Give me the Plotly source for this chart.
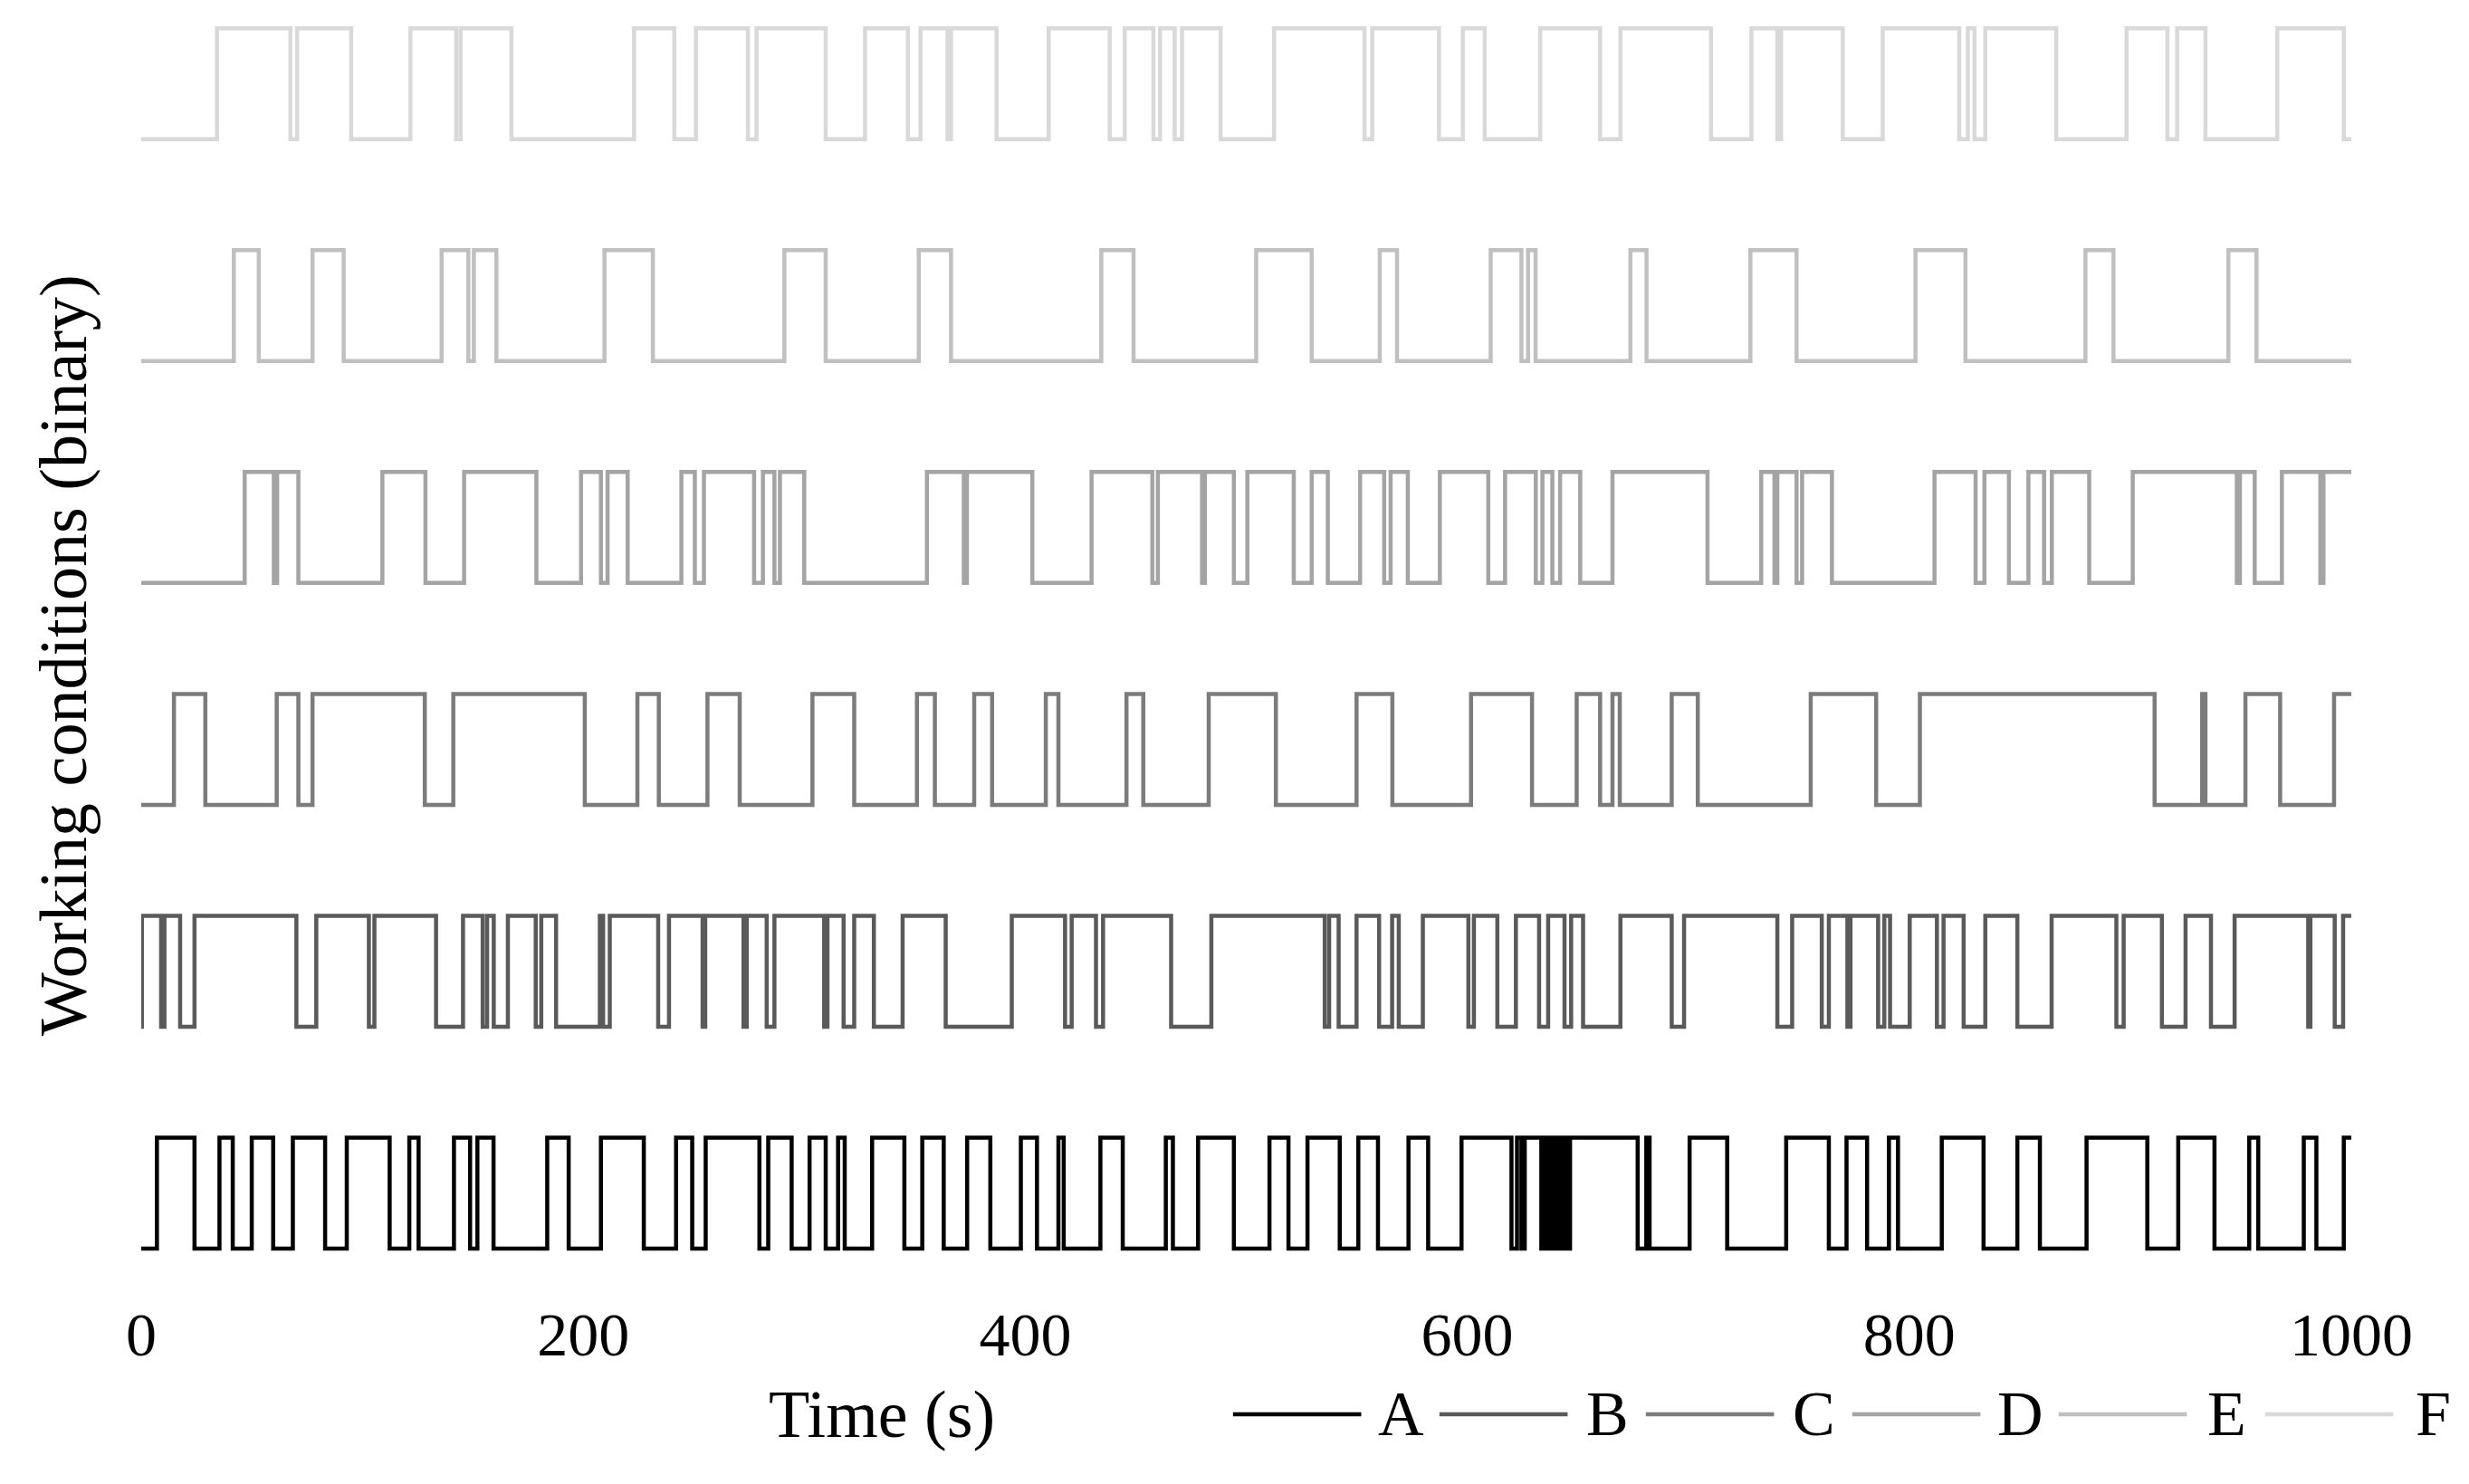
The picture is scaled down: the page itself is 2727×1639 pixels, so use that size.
import plotly.graph_objects as go

# switching instants (s) of each binary working-condition signal, all start at 0
T_END = 1000
NAMES = ["A", "B", "C", "D", "E", "F"]

SW_A = [7.1, 24.1, 35.4, 41.4, 50.0, 59.7, 68.6, 83.2, 93.0, 112.4, 121.3, 125.5,
        141.5, 148.8, 152.1, 159.4, 183.7, 193.4, 208.0, 227.4, 242.0, 249.3, 255.4,
        279.7, 283.7, 294.3, 302.4, 309.7, 315.3, 318.3, 330.7, 345.3, 353.4, 363.1,
        373.7, 384.2, 398.0, 405.3, 415.0, 417.4, 434.0, 444.1, 463.6, 466.8, 478.2,
        494.4, 510.5, 519.1, 527.7, 542.3, 550.7, 559.6, 573.4, 582.3, 597.4, 620.0,
        622.5, 624.5, 626.0, 633.5, 635.0, 636.5, 638.0, 639.5, 641.0, 642.0, 643.5,
        645.0, 646.5, 677.1, 681.0, 682.5, 700.6, 717.6, 744.3, 763.6, 771.6, 780.9,
        790.8, 794.9, 814.7, 833.6, 848.9, 859.1, 880.2, 907.7, 921.7, 938.1, 953.8,
        957.9, 978.5, 984.2, 996.6]
SW_B = [0.3, 9.0, 10.5, 17.6, 24.1, 70.2, 79.2, 103.0, 105.5, 133.4, 145.6, 154.5,
        156.5, 159.5, 165.9, 178.5, 181.0, 187.7, 207.5, 209.0, 212.0, 233.9, 238.8,
        254.0, 255.2, 272.5, 274.0, 283.0, 286.5, 309.0, 310.5, 317.8, 322.6, 331.5,
        344.5, 364.0, 393.9, 418.0, 421.0, 432.0, 435.2, 466.0, 484.2, 535.5, 537.5,
        541.8, 549.9, 560.1, 566.0, 569.0, 579.9, 600.5, 603.0, 613.6, 622.0, 632.5,
        636.6, 644.0, 647.0, 652.4, 669.3, 692.5, 698.1, 740.3, 747.0, 760.4, 763.6,
        772.0, 773.4, 785.9, 788.7, 791.3, 800.2, 812.5, 815.5, 824.6, 834.4, 848.9,
        864.4, 893.7, 897.0, 914.3, 925.0, 936.5, 947.2, 980.5, 981.5, 992.5, 996.3]
SW_C = [14.8, 29.0, 61.3, 71.1, 77.5, 128.3, 141.2, 200.7, 224.5, 234.2, 256.2, 270.8,
        303.7, 322.6, 351.0, 359.1, 376.9, 385.0, 409.3, 415.0, 445.8, 453.4, 483.0,
        513.4, 549.9, 566.1, 601.7, 629.3, 649.5, 660.1, 665.7, 669.0, 692.5, 704.3,
        755.4, 785.0, 804.8, 911.0, 932.5, 934.0, 952.1, 967.8, 992.2]
SW_D = [46.8, 60.0, 61.5, 71.1, 109.1, 128.6, 146.1, 178.8, 199.0, 208.0, 211.0, 220.1,
        244.4, 250.5, 254.6, 277.3, 281.3, 286.5, 289.0, 300.0, 355.5, 372.2, 373.6,
        403.2, 430.0, 457.5, 460.0, 480.0, 481.3, 494.4, 500.5, 521.5, 529.6, 536.9,
        551.5, 562.4, 565.3, 573.1, 587.6, 609.5, 617.1, 631.0, 634.0, 638.5, 642.0,
        651.1, 665.7, 708.7, 733.0, 739.0, 740.3, 749.0, 751.5, 765.0, 811.4, 830.0,
        834.0, 845.1, 853.9, 861.0, 864.5, 881.4, 901.1, 948.2, 949.6, 956.3, 968.6,
        986.0, 987.4]
SW_E = [41.9, 53.2, 77.5, 91.6, 135.9, 148.0, 150.5, 160.7, 209.6, 231.5, 291.0, 309.7,
        351.8, 366.4, 434.4, 449.0, 504.5, 529.6, 560.4, 568.2, 610.6, 624.5, 627.5,
        630.9, 673.8, 681.1, 728.1, 749.0, 802.8, 825.4, 879.7, 892.4, 944.4, 957.1]
SW_F = [34.3, 67.5, 70.5, 95.0, 121.8, 142.5, 144.5, 167.5, 223.0, 241.2, 251.0, 274.5,
        278.4, 309.7, 327.5, 346.9, 352.6, 364.8, 366.4, 387.0, 410.6, 438.2, 445.0,
        458.0, 461.0, 467.6, 470.9, 488.4, 512.6, 553.5, 557.0, 587.2, 598.0, 607.9,
        633.0, 660.1, 669.3, 710.3, 728.6, 740.3, 742.0, 769.9, 788.0, 822.6, 826.5,
        829.5, 834.4, 866.5, 898.3, 916.8, 921.2, 934.0, 966.5, 996.6]

SWITCHES = {"A": SW_A, "B": SW_B, "C": SW_C, "D": SW_D, "E": SW_E, "F": SW_F}
OFFSETS = {"A": 0, "B": 2, "C": 4, "D": 6, "E": 8, "F": 10}
COLORS = {"A": "#000000", "B": "#5a5a5a", "C": "#7c7c7c",
          "D": "#a4a4a4", "E": "#c0c0c0", "F": "#d9d9d9"}

FONT = "Liberation Serif, Times New Roman, serif"
LW = 4.5


def step_xy(switches, base):
    xs, ys, state = [0], [base], 0
    for t in switches:
        state = 1 - state
        xs.append(t)
        ys.append(base + state)
    xs.append(T_END)
    ys.append(base + state)
    return xs, ys


fig = go.Figure()
for name in NAMES:
    xs, ys = step_xy(SWITCHES[name], OFFSETS[name])
    fig.add_trace(go.Scatter(
        x=xs, y=ys, name=name, mode="lines", line_shape="hv",
        line=dict(color=COLORS[name], width=LW), showlegend=False,
    ))

# legend drawn by hand: long line + letter, as in the original
LEG_Y = -0.0951
for i, name in enumerate(NAMES):
    x0 = 0.494 + i * 0.0934
    fig.add_shape(type="line", xref="paper", yref="paper",
                  x0=x0, x1=x0 + 0.058, y0=LEG_Y, y1=LEG_Y,
                  line=dict(color=COLORS[name], width=LW))
    fig.add_annotation(x=x0 + 0.076, y=LEG_Y, xref="paper", yref="paper",
                       xanchor="center", yanchor="middle",
                       text=name, showarrow=False, font=dict(size=70, color="black"))

fig.add_annotation(x=335, y=LEG_Y, xref="x", yref="paper", text="Time (s)",
                   xanchor="center", yanchor="middle",
                   showarrow=False, font=dict(size=74, color="black"))
fig.add_annotation(x=-0.0354, y=0.5, xref="paper", yref="paper",
                   text="Working conditions (binary)", textangle=-90,
                   xanchor="center", yanchor="middle",
                   showarrow=False, font=dict(size=74, color="black"))

fig.update_layout(
    width=2727, height=1639,
    paper_bgcolor="white", plot_bgcolor="white",
    font=dict(family=FONT, size=68, color="black"),
    margin=dict(l=148, r=138, t=11, b=219),
    showlegend=False,
)
fig.update_xaxes(range=[0, T_END], tickvals=[0, 200, 400, 600, 800, 1000],
                 showgrid=False, zeroline=False, showline=False, ticks="",
                 tickfont=dict(size=68))
fig.update_yaxes(range=[-0.4, 11.1], showgrid=False, zeroline=False,
                 showline=False, showticklabels=False, ticks="")

fig.write_html("out.html")
